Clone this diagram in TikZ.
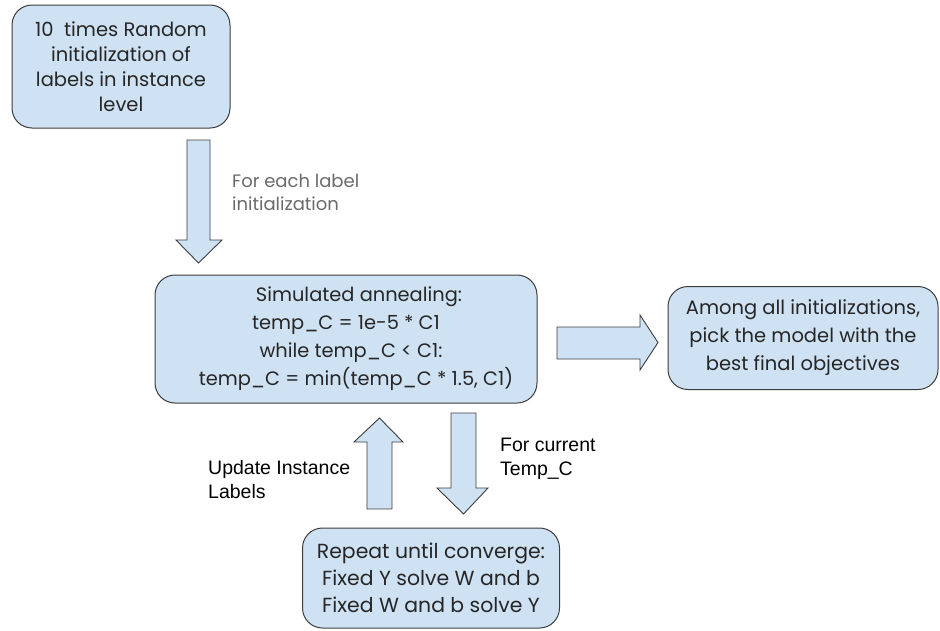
\documentclass[tikz,border=0pt]{standalone}
\usepackage{fontspec}
\setmainfont{Poppins}
\newfontfamily\arialfont{Liberation Sans}
\definecolor{boxfill}{HTML}{CFE2F3}
\definecolor{boxline}{HTML}{3C3C3C}
\definecolor{notegray}{HTML}{6A6A6A}
\begin{document}
\begin{tikzpicture}[x=1pt,y=-1pt,
  stepbox/.style={draw=boxline, fill=boxfill, line width=1pt, rounded corners=20pt,
    align=center, inner sep=0pt, text=black!85},
  blockarrow/.style={draw=boxline, fill=boxfill, line width=0.9pt, line join=miter},
  note/.style={align=left, anchor=west, inner sep=0pt}]
\useasboundingbox (0,0) rectangle (940,630);

% process boxes
\node[stepbox, minimum width=218pt, minimum height=123pt, font=\fontsize{19.5}{25}\selectfont]
  (init) at (121,66.5) {10\ \ times Random\\initialization of\\labels in instance\\level};
\node[stepbox, minimum width=382pt, minimum height=128pt, font=\fontsize{19.4}{28}\selectfont]
  (anneal) at (346,339) {\hspace*{26pt}Simulated annealing:\\temp\_C = 1e-5 * C1\\\hspace*{10pt}while temp\_C < C1:\\\hspace*{20pt}temp\_C = min(temp\_C * 1.5, C1)};
\node[stepbox, minimum width=270pt, minimum height=103pt, font=\fontsize{19.5}{28}\selectfont]
  (best) at (803,338) {Among all initializations,\\pick the model with the\\best final objectives};
\node[stepbox, minimum width=257pt, minimum height=100pt, font=\fontsize{20.4}{27}\selectfont]
  (repeat) at (431,578) {Repeat until converge:\\Fixed Y solve W and b\\Fixed W and b solve Y};

% block arrows between the boxes
\draw[blockarrow] (187,140) -- (210,140) -- (210,240) -- (222,240) -- (198.5,263)
  -- (176,240) -- (187,240) -- cycle;
\draw[blockarrow] (557,327) -- (640,327) -- (640,315) -- (658,342.5) -- (640,370)
  -- (640,359) -- (557,359) -- cycle;
\draw[blockarrow] (367,509) -- (392,509) -- (392,442) -- (403,442) -- (379.5,418)
  -- (354,442) -- (367,442) -- cycle;
\draw[blockarrow] (451,413) -- (476,413) -- (476,488) -- (488,488) -- (463.5,514)
  -- (437,488) -- (451,488) -- cycle;

% arrow labels
\node[note, text=notegray, font=\fontsize{18}{23}\selectfont] (lbleach) at (232,192)
  {For each label\\initialization};
\node[note, font=\arialfont\fontsize{19.5}{24}\selectfont] (lblupd) at (208,480)
  {Update Instance\\Labels};
\node[note, font=\arialfont\fontsize{19.5}{24}\selectfont] (lblcur) at (500,459)
  {For current\\Temp\_C};
\end{tikzpicture}
\end{document}
